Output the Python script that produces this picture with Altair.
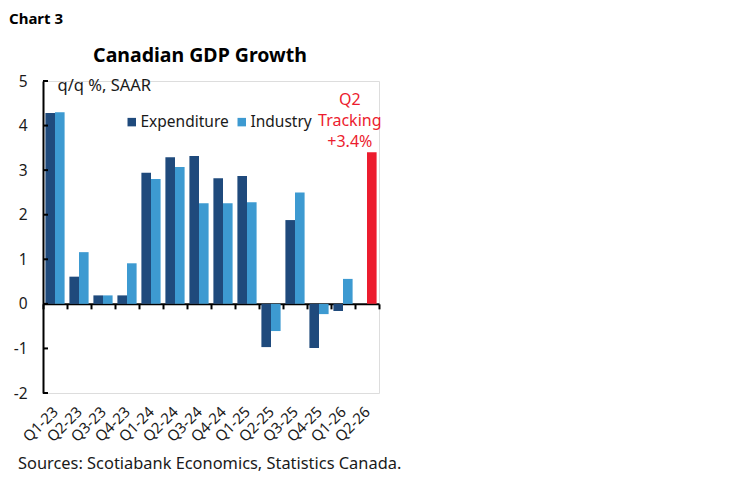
import altair as alt
import pandas as pd

# ---- data ----
quarters = ["Q1-23", "Q2-23", "Q3-23", "Q4-23", "Q1-24", "Q2-24", "Q3-24",
            "Q4-24", "Q1-25", "Q2-25", "Q3-25", "Q4-25", "Q1-26", "Q2-26"]
expenditure = [4.28, 0.61, 0.19, 0.19, 2.94, 3.29, 3.32, 2.82, 2.87, -0.97,
               1.88, -0.99, -0.16, None]
industry = [4.30, 1.16, 0.19, 0.91, 2.80, 3.07, 2.26, 2.26, 2.28, -0.61,
            2.50, -0.23, 0.56, None]
tracking_quarter = "Q2-26"
tracking_value = 3.4
tracking_label = ["Q2", "Tracking", "+3.4%"]
y_ticks = [-2, -1, 0, 1, 2, 3, 4, 5]
series_names = ["Expenditure", "Industry", "Tracking"]

rows = []
for q, e, i in zip(quarters, expenditure, industry):
    if e is not None:
        rows.append({"quarter": q, "slot": "Expenditure", "series": "Expenditure", "value": e})
    if i is not None:
        rows.append({"quarter": q, "slot": "Industry", "series": "Industry", "value": i})
rows.append({"quarter": tracking_quarter, "slot": "Industry", "series": "Tracking",
             "value": tracking_value})
df = pd.DataFrame(rows)
tick_df = pd.DataFrame({"value": y_ticks})

# ---- style ----
W, H = 336, 312
FONT = "Noto Sans"
NAVY, LIGHT, RED = "#1f4a7c", "#3d9ad1", "#ec1c2e"

x_enc = alt.X(
    "quarter:N", sort=quarters,
    scale=alt.Scale(domain=quarters, paddingInner=0, paddingOuter=0),
    axis=alt.Axis(title=None, orient="bottom", offset=-H * 2 / 7, tickBand="extent",
                  tickSize=5, tickWidth=2, tickColor="black", domainColor="black",
                  domainWidth=2, labelAngle=-45, labelAlign="right",
                  labelBaseline="middle", labelPadding=100, labelFontSize=15,
                  labelFont=FONT, labelColor="#1a1a1a", grid=False),
)
xoff_enc = alt.XOffset(
    "slot:N", sort=["Expenditure", "Industry"],
    scale=alt.Scale(domain=["Expenditure", "Industry"], paddingInner=0, paddingOuter=0.25),
)
y_enc = alt.Y(
    "value:Q",
    scale=alt.Scale(domain=[-2, 5], nice=False, zero=False),
    axis=alt.Axis(values=y_ticks, labelExpr="'' + datum.value",
                  title="q/q %, SAAR", titleAngle=0, titleX=14, titleY=4,
                  titleAlign="left", titleBaseline="middle", titleFontWeight="normal",
                  titleFontSize=16.5, titleFont=FONT, titleColor="#1a1a1a", tickSize=0,
                  labelPadding=16, labelFontSize=15.5, labelFont=FONT, labelColor="#1a1a1a",
                  domainColor="black", domainWidth=2, grid=False),
)

bars = alt.Chart(df).mark_bar().encode(
    x=x_enc,
    xOffset=xoff_enc,
    y=y_enc,
    color=alt.Color(
        "series:N",
        scale=alt.Scale(domain=series_names, range=[NAVY, LIGHT, RED]),
        legend=alt.Legend(values=["Expenditure", "Industry"], title=None, orient="none",
                          legendX=81, legendY=33, direction="horizontal",
                          symbolType="square", symbolSize=72, symbolStrokeWidth=0,
                          labelFontSize=15.5, labelFont=FONT, labelColor="#1a1a1a",
                          labelOffset=1, columnPadding=5, padding=0),
    ),
)

yticks = alt.Chart(tick_df).mark_rule(color="black", strokeWidth=2).encode(
    y=alt.Y("value:Q"), x=alt.value(0), x2=alt.value(5)
)

red_label = alt.Chart(df).transform_filter(alt.datum.series == "Tracking").mark_text(
    color=RED, fontSize=16, font=FONT, align="center", baseline="alphabetic",
    dx=-22, dy=-47, lineHeight=21,
).encode(x=x_enc, xOffset=xoff_enc, y=alt.Y("value:Q"), text=alt.value(tracking_label))

chart_no = alt.Chart(pd.DataFrame({"t": ["Chart 3"]})).mark_text(
    font=FONT, fontSize=15, fontWeight="bold", align="left", baseline="alphabetic",
    color="black",
).encode(text="t:N", x=alt.value(-34), y=alt.value(-57))

title = alt.Chart(pd.DataFrame({"t": ["Canadian GDP Growth"]})).mark_text(
    font=FONT, fontSize=19.5, fontWeight="bold", align="center", baseline="alphabetic",
    color="black",
).encode(text="t:N", x=alt.value(157), y=alt.value(-19))

source = alt.Chart(pd.DataFrame({"t": ["Sources: Scotiabank Economics, Statistics Canada."]})).mark_text(
    font=FONT, fontSize=16.4, align="left", baseline="alphabetic", color="#1a1a1a",
).encode(text="t:N", x=alt.value(-25), y=alt.value(388))

chart = alt.layer(bars, yticks, red_label, chart_no, title, source).properties(
    width=W, height=H,
    autosize=alt.AutoSizeParams(type="none"),
    padding={"left": 35, "top": 73, "right": 362, "bottom": 81},
).configure_view(stroke=None).configure(background="white")

chart.save("out.html", embed_options={"renderer": "svg", "actions": False})
